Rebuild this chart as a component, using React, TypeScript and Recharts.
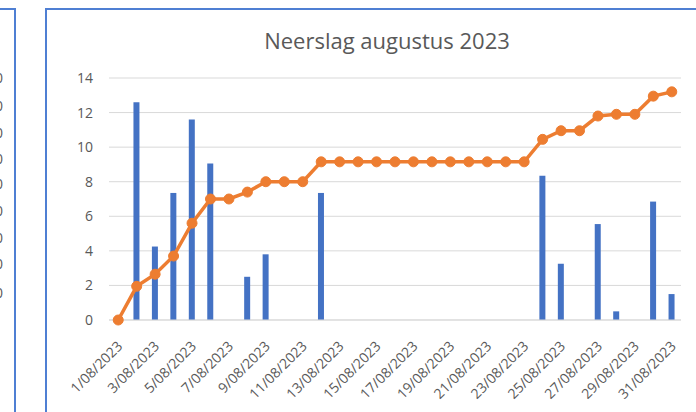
import React from "react";
import {
  Bar,
  CartesianGrid,
  ComposedChart,
  Line,
  XAxis,
  YAxis,
} from "recharts";

// Dagen van augustus 2023
const days = Array.from({ length: 31 }, (_, i) => `${i + 1}/08/2023`);

// Neerslag per dag (mm), null = geen neerslag
const rain: (number | null)[] = [
  null, 12.6, 4.25, 7.35, 11.6, 9.05, null, 2.5, 3.8, null,
  null, 7.35, null, null, null, null, null, null, null, null,
  null, null, null, 8.35, 3.25, null, 5.55, 0.5, null, 6.85,
  1.5,
];

// Cumulatieve lijn
const total: number[] = [
  0, 1.95, 2.65, 3.7, 5.6, 7.0, 7.0, 7.4, 8.0, 8.0,
  8.0, 9.15, 9.15, 9.15, 9.15, 9.15, 9.15, 9.15, 9.15, 9.15,
  9.15, 9.15, 9.15, 10.45, 10.95, 10.95, 11.8, 11.9, 11.9, 12.95,
  13.2,
];

const yTicks = [0, 2, 4, 6, 8, 10, 12, 14];

// as van de grafiek links (grotendeels buiten beeld)
const leftAxisTicks = ["160", "140", "120", "100", "80", "60", "40", "20", "0"];
const leftAxisY = [78, 106, 133, 159, 184, 211, 238, 264, 293];

const data = days.map((d, i) => ({ day: d, rain: rain[i], total: total[i] }));

const GREY = "#595959";
const FONT = "'Open Sans', sans-serif";

function XTick({ x, y, payload }: any) {
  return (
    <g transform={`translate(${x - 2},${y + 18})`}>
      <text
        textAnchor="end"
        transform="rotate(-45)"
        dy="0.72em"
        fill={GREY}
        fontSize={14}
        fontFamily={FONT}
      >
        {payload.value}
      </text>
    </g>
  );
}

export default function App() {
  return (
    <div
      style={{
        position: "absolute",
        left: 0,
        top: 0,
        width: 696,
        height: 412,
        overflow: "hidden",
        background: "#fff",
        fontFamily: FONT,
      }}
    >
      {/* linker grafiek, afgesneden */}
      <div
        style={{
          position: "absolute",
          left: -200,
          top: 8,
          width: 212,
          height: 420,
          border: "2px solid #4f7fd3",
        }}
      />
      {leftAxisTicks.map((t, i) => (
        <div
          key={t}
          style={{
            position: "absolute",
            right: 693,
            top: leftAxisY[i] - 9,
            fontSize: 14,
            color: GREY,
            lineHeight: "18px",
          }}
        >
          {t}
        </div>
      ))}

      {/* hoofdgrafiek */}
      <div
        style={{
          position: "absolute",
          left: 45,
          top: 8,
          width: 700,
          height: 420,
          border: "2px solid #4f7fd3",
        }}
      />
      <div
        style={{
          position: "absolute",
          left: 0,
          top: 29,
          width: 774,
          textAlign: "center",
          fontSize: 22,
          lineHeight: "22px",
          color: GREY,
        }}
      >
        Neerslag augustus 2023
      </div>
      <div style={{ position: "absolute", left: 48, top: 10 }}>
        <ComposedChart
          width={660}
          height={400}
          data={data}
          margin={{ top: 68, right: 27, left: 0, bottom: 0 }}
        >
          <CartesianGrid vertical={false} stroke="#d9d9d9" />
          <XAxis
            dataKey="day"
            interval={1}
            tickLine={false}
            tickSize={0}
            stroke="#d9d9d9"
            height={90}
            tick={<XTick />}
          />
          <YAxis
            domain={[0, 14]}
            ticks={yTicks}
            width={61}
            axisLine={false}
            tickLine={false}
            tickMargin={10}
            tick={{ fill: GREY, fontSize: 14, fontFamily: FONT }}
          />
          <Bar dataKey="rain" fill="#4472c4" barSize={6} isAnimationActive={false} />
          <Line
            dataKey="total"
            type="linear"
            stroke="#ed7d31"
            strokeWidth={3.5}
            dot={{ r: 5, fill: "#ed7d31", stroke: "#ed7d31", strokeWidth: 1 }}
            activeDot={false}
            isAnimationActive={false}
          />
        </ComposedChart>
      </div>
    </div>
  );
}
